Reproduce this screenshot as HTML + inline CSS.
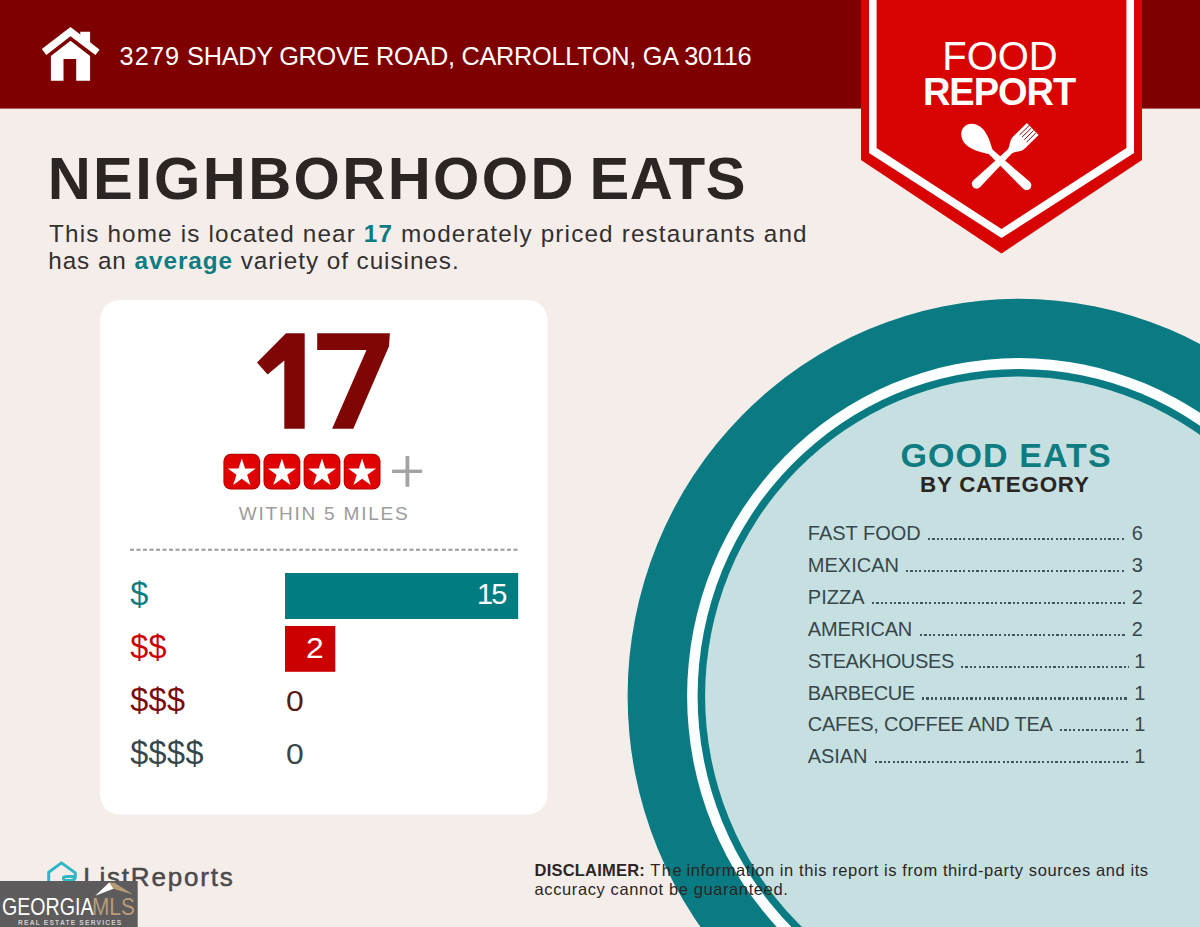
<!DOCTYPE html>
<html lang="en">
<head>
<meta charset="utf-8">
<title>Food Report</title>
<style>
html,body{margin:0;padding:0;}
body{width:1200px;height:927px;overflow:hidden;background:#f5edea;font-family:"Liberation Sans",sans-serif;}
#page{position:relative;width:1200px;height:927px;overflow:hidden;background:#f5edea;}
#shapes{position:absolute;left:0;top:0;width:1200px;height:927px;}
.t{position:absolute;white-space:nowrap;line-height:1;margin:0;padding:0;}
.b{font-weight:bold;}
.teal{color:#0e7c80;}

.row{position:absolute;left:807.8px;width:335px;display:flex;align-items:baseline;font-size:20px;line-height:1;color:#37474a;white-space:nowrap;}
.row .dots{flex:1 1 auto;height:2.2px;margin:0 6.5px 0.4px 7.5px;background:repeating-linear-gradient(to right,#42555a 0,#42555a 2.2px,transparent 2.2px,transparent 4.4px);}
</style>
</head>
<body>
<div id="page">
<svg id="shapes" width="1200" height="927" viewBox="0 0 1200 927">
  <!-- header band -->
  <rect x="0" y="0" width="1200" height="108.6" fill="#7f0000"/>

  <!-- big circle -->
  <ellipse cx="1018.9" cy="696" rx="391.3" ry="397.2" fill="#0a7b82"/>
  <ellipse cx="1018.9" cy="696" rx="331.8" ry="337.9" fill="#fbffff"/>
  <ellipse cx="1018.9" cy="696" rx="321.3" ry="327.1" fill="#0a7b82"/>
  <ellipse cx="1018.9" cy="696" rx="313.8" ry="319.6" fill="#c6e0e1"/>

  <!-- card -->
  <rect x="100" y="300" width="447.5" height="514.5" rx="20" ry="20" fill="#ffffff"/>

  <!-- badge -->
  <polygon points="861,0 1142,0 1142,160 1001.5,253.5 861,160" fill="#d80303"/>
  <polygon points="869,0 1134,0 1134,153.1 1001.5,238 869,153.1" fill="#ffffff"/>
  <polygon points="876.6,0 1126.4,0 1126.4,148 1001.5,228.9 876.6,148" fill="#d80303"/>

  <!-- spoon & fork -->
  <g transform="translate(1000.2,160.8)" fill="#ffffff">
    <g transform="rotate(45.7)">
      <path d="M-8.4,-45.5 L8.4,-45.5 L8.4,-27 C8.4,-20 3.6,-18 2.9,-13 L4.8,33 A4.8,4.8 0 0 1 -4.8,33 L-2.9,-13 C-3.6,-18 -8.4,-20 -8.4,-27 Z"/>
      <g stroke="#7a0000" stroke-width="0.9">
        <line x1="-5" y1="-45.5" x2="-5" y2="-32"/>
        <line x1="-1.7" y1="-45" x2="-1.7" y2="-32"/>
        <line x1="1.7" y1="-45" x2="1.7" y2="-32"/>
        <line x1="5" y1="-45" x2="5" y2="-32"/>
      </g>
    </g>
    <g transform="rotate(-47)">
      <path d="M0,-49.5 C7,-49.5 11.5,-43 11.5,-35.5 C11.5,-27 6,-19 2.9,-13 L4.8,36 A4.8,4.8 0 0 1 -4.8,36 L-2.9,-13 C-6,-19 -11.5,-27 -11.5,-35.5 C-11.5,-43 -7,-49.5 0,-49.5 Z"/>
    </g>
  </g>

  <!-- home icon -->
  <g fill="#ffffff">
    <polygon points="70.5,27 41.8,49.1 46.3,54.9 70.5,36.2 95.4,55.1 99.6,49.8 90.1,42.3 90.1,31.7 80.3,31.7 80.3,34.4"/>
    <polygon points="70.5,40.8 50.9,56 50.9,80.8 63.5,80.8 63.5,58.9 76.2,58.9 76.2,80.8 90.1,80.8 90.1,56"/>
  </g>

  <!-- big 17 -->
  <g fill="#800606">
    <polygon points="286,333.2 304.7,333.2 304.7,428.8 284.3,428.8 284.3,360.4 267.6,374.5 257,362.5"/>
    <polygon points="317.2,333.2 389.9,333.2 389,346.2 353.3,428.8 332.1,428.8 366.5,350 317.2,350"/>
  </g>

  <!-- dashed divider -->
  <line x1="130" y1="549.7" x2="518" y2="549.7" stroke="#9a9a9a" stroke-width="2" stroke-dasharray="4 2.5"/>

  <!-- bars -->
  <rect x="285" y="573" width="233.2" height="46" fill="#017c80"/>
  <rect x="285" y="626" width="50.3" height="45.8" fill="#cc0000"/>

  <!-- star tiles -->
  <rect x="223.4" y="453.7" width="36.8" height="35.8" rx="7.5" ry="7.5" fill="#b00000"/>
  <rect x="224.4" y="454.7" width="34.8" height="33.8" rx="6.6" ry="6.6" fill="#e00202"/>
  <polygon points="241.80,458.40 245.09,468.57 255.78,468.56 247.13,474.83 250.44,484.99 241.80,478.70 233.16,484.99 236.47,474.83 227.82,468.56 238.51,468.57" fill="#ffffff"/>
  <rect x="263.5" y="453.7" width="36.8" height="35.8" rx="7.5" ry="7.5" fill="#b00000"/>
  <rect x="264.5" y="454.7" width="34.8" height="33.8" rx="6.6" ry="6.6" fill="#e00202"/>
  <polygon points="281.90,458.40 285.19,468.57 295.88,468.56 287.23,474.83 290.54,484.99 281.90,478.70 273.26,484.99 276.57,474.83 267.92,468.56 278.61,468.57" fill="#ffffff"/>
  <rect x="303.6" y="453.7" width="36.8" height="35.8" rx="7.5" ry="7.5" fill="#b00000"/>
  <rect x="304.6" y="454.7" width="34.8" height="33.8" rx="6.6" ry="6.6" fill="#e00202"/>
  <polygon points="322.00,458.40 325.29,468.57 335.98,468.56 327.33,474.83 330.64,484.99 322.00,478.70 313.36,484.99 316.67,474.83 308.02,468.56 318.71,468.57" fill="#ffffff"/>
  <rect x="343.7" y="453.7" width="36.8" height="35.8" rx="7.5" ry="7.5" fill="#b00000"/>
  <rect x="344.7" y="454.7" width="34.8" height="33.8" rx="6.6" ry="6.6" fill="#e00202"/>
  <polygon points="362.10,458.40 365.39,468.57 376.08,468.56 367.43,474.83 370.74,484.99 362.10,478.70 353.46,484.99 356.77,474.83 348.12,468.56 358.81,468.57" fill="#ffffff"/>
  <!-- plus -->
  <rect x="392.1" y="469.6" width="30.1" height="3.4" fill="#a3a3a3"/>
  <rect x="405.5" y="456" width="3.8" height="30.8" fill="#a3a3a3"/>

  <!-- ListReports icon -->
  <path d="M48.7,896 L48.7,872.2 L61.5,862.9 L75.3,872.9 L75.3,876.8 C75.3,879.4 73.2,880.4 71,880.4 L66,880.4 C63.3,880.4 62.6,877.7 64.4,876.7 C65.5,876.1 67,876.5 75.3,876.5" fill="none" stroke="#2fb7c5" stroke-width="3" stroke-linejoin="round" stroke-linecap="round"/>

</svg>

<!-- TEXT LAYER -->
<div class="t" id="addr" style="left:119.6px;top:43.8px;font-size:25.3px;color:#fff;letter-spacing:-0.27px;"><span style="letter-spacing:1.1px;">3279</span> SHADY GROVE ROAD, CARROLLTON, GA 30116</div>

<div class="t" id="food" style="left:942.3px;top:35.9px;font-size:40px;color:#fff;letter-spacing:-0.1px;">FOOD</div>
<div class="t b" id="report" style="left:922.9px;top:73.2px;font-size:38px;color:#fff;letter-spacing:-1px;">REPORT</div>

<div class="t b" id="title" style="left:47.7px;top:149.3px;font-size:59.6px;color:#2b2523;letter-spacing:2.35px;">NEIGHBORHOOD</div>
<div class="t b" id="title2" style="left:589.5px;top:149.3px;font-size:59.6px;color:#2b2523;letter-spacing:0.5px;">EATS</div>
<div class="t" id="p1" style="left:49px;top:222.4px;font-size:24.3px;color:#333030;letter-spacing:1.15px;">This home is located near <span class="b teal">17</span> moderately priced restaurants and</div>
<div class="t" id="p2" style="left:48.2px;top:248.7px;font-size:24.3px;color:#333030;letter-spacing:0.95px;">has an <span class="b teal">average</span> variety of cuisines.</div>

<div class="t" id="within" style="left:238.7px;top:503.9px;font-size:19px;color:#9b9b9b;letter-spacing:1.8px;">WITHIN 5 MILES</div>

<div class="t" id="d1" style="left:130.2px;top:578.45px;font-size:32.4px;color:#0e7c80;letter-spacing:0.4px;">$</div>
<div class="t" id="d2" style="left:130.2px;top:631.45px;font-size:32.4px;color:#cc0000;letter-spacing:0.4px;">$$</div>
<div class="t" id="d3" style="left:130.2px;top:684.25px;font-size:32.4px;color:#7a0c0c;letter-spacing:0.4px;">$$$</div>
<div class="t" id="d4" style="left:130.2px;top:737.25px;font-size:32.4px;color:#37474a;letter-spacing:0.4px;">$$$$</div>

<div class="t" id="n1" style="left:477px;top:580.40px;font-size:29px;color:#fff;letter-spacing:-2px;">15</div>
<div class="t" id="n2" style="left:306px;top:634.00px;font-size:29px;color:#fff;transform-origin:0 50%;transform:scaleX(1.1);">2</div>
<div class="t" id="n3" style="left:285.5px;top:687.05px;font-size:29px;color:#5a1a14;transform-origin:0 50%;transform:scaleX(1.1);">0</div>
<div class="t" id="n4" style="left:285.5px;top:739.55px;font-size:29px;color:#37474a;transform-origin:0 50%;transform:scaleX(1.1);">0</div>

<div class="t b" id="good" style="left:900.6px;top:437.6px;font-size:34px;color:#0e7c80;letter-spacing:1.06px;">GOOD EATS</div>
<div class="t b" id="bycat" style="left:920px;top:473.6px;font-size:22.4px;color:#2b2523;letter-spacing:0.75px;">BY CATEGORY</div>


<!-- category list -->
<div class="row" id="r0" style="top:523.17px;"><span class="lab" id="l0" style="letter-spacing:0.00px;">FAST FOOD</span><span class="dots"></span><span class="num" id="m0">6</span></div>
<div class="row" id="r1" style="top:555.05px;"><span class="lab" id="l1" style="letter-spacing:0.00px;">MEXICAN</span><span class="dots"></span><span class="num" id="m1">3</span></div>
<div class="row" id="r2" style="top:586.93px;"><span class="lab" id="l2" style="letter-spacing:0.00px;">PIZZA</span><span class="dots"></span><span class="num" id="m2">2</span></div>
<div class="row" id="r3" style="top:618.81px;"><span class="lab" id="l3" style="letter-spacing:-0.15px;">AMERICAN</span><span class="dots"></span><span class="num" id="m3">2</span></div>
<div class="row" id="r4" style="top:650.69px;"><span class="lab" id="l4" style="letter-spacing:-0.36px;">STEAKHOUSES</span><span class="dots" style="margin-right:2.6px;"></span><span class="num" id="m4" style="position:relative;left:2.6px;">1</span></div>
<div class="row" id="r5" style="top:682.57px;"><span class="lab" id="l5" style="letter-spacing:-0.39px;">BARBECUE</span><span class="dots" style="margin-right:2.6px;"></span><span class="num" id="m5" style="position:relative;left:2.6px;">1</span></div>
<div class="row" id="r6" style="top:714.45px;"><span class="lab" id="l6" style="letter-spacing:-0.23px;">CAFES, COFFEE AND TEA</span><span class="dots" style="margin-right:2.6px;"></span><span class="num" id="m6" style="position:relative;left:2.6px;">1</span></div>
<div class="row" id="r7" style="top:746.33px;"><span class="lab" id="l7" style="letter-spacing:-0.10px;">ASIAN</span><span class="dots" style="margin-right:2.6px;"></span><span class="num" id="m7" style="position:relative;left:2.6px;">1</span></div>

<div class="t" id="lr" style="left:83.2px;top:863.8px;font-size:26px;color:#4a4a4a;letter-spacing:1.8px;-webkit-text-stroke:0.5px #4a4a4a;">ListReports</div>

<div class="t" id="dis1" style="left:534.6px;top:862px;font-size:16.5px;color:#2b2523;letter-spacing:0.59px;"><span class="b" style="letter-spacing:0.2px;">DISCLAIMER:</span> <span style="letter-spacing:1.5px;word-spacing:-2.6px;">The </span>information in this report is from third-party sources and its</div>
<div class="t" id="dis2" style="left:534.6px;top:880.8px;font-size:16.5px;color:#2b2523;letter-spacing:0.6px;">accuracy cannot be guaranteed.</div>

<!-- watermark -->
<svg id="wm" style="position:absolute;left:0;top:875px;" width="145" height="52" viewBox="0 875 145 52">
  <rect x="0" y="881" width="137.7" height="46" fill="#5d5b5b"/>
  <polygon points="109.2,882.6 95.3,895.8 113.4,888.8 114.6,885.6" fill="#ffffff"/>
  <polygon points="109.2,882.6 114.8,883 133,894.5 113.4,888.8" fill="#b89c77"/>
</svg>
<!-- watermark text -->
<div class="t" id="geo" style="left:1.6px;top:895px;font-size:24.5px;color:#ffffff;transform-origin:0 0;transform:scaleX(0.8);">GEORGIA</div>
<div class="t" id="mls" style="left:92.3px;top:895px;font-size:24.5px;color:#b89c77;transform-origin:0 0;transform:scaleX(0.85);">MLS</div>
<div class="t b" id="res" style="left:18px;top:919.8px;font-size:6.7px;color:#cfcfcf;letter-spacing:1.18px;">REAL ESTATE SERVICES</div>
</div>
</body>
</html>
